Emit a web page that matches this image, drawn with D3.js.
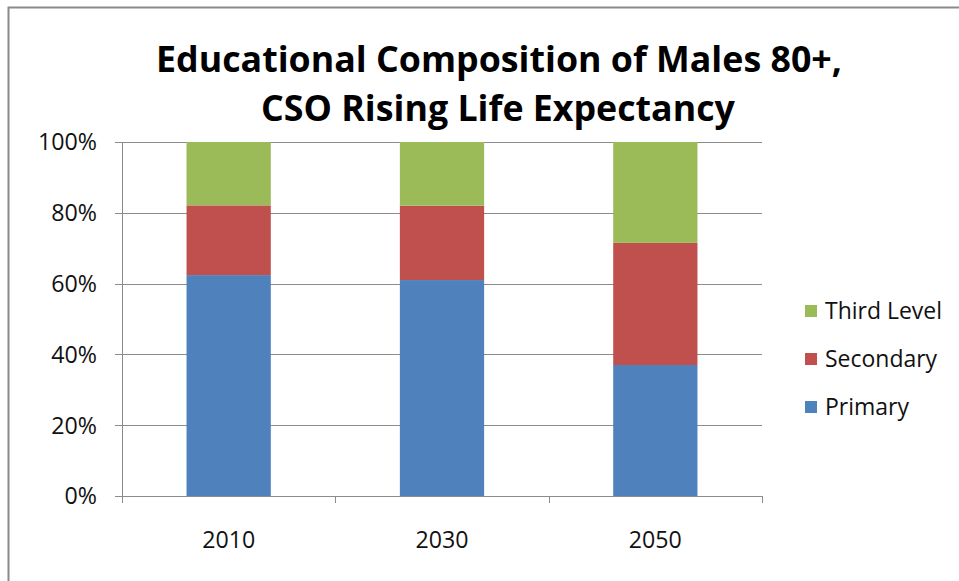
<!DOCTYPE html>
<html>
<head>
<meta charset="utf-8">
<script src="https://cdn.jsdelivr.net/npm/d3@7"></script>
<style>
  body { margin: 0; background: #fff; }
  svg { display: block; font-family: "Open Sans", sans-serif; }
</style>
</head>
<body>
<div id="chart"></div>
<script>
// data (shares of males 80+)
const years = ["2010", "2030", "2050"];
const seriesNames = ["Primary", "Secondary", "Third Level"];
const primary = [0.624, 0.610, 0.370];
const secondary = [0.197, 0.210, 0.345];
const thirdLevel = [0.179, 0.180, 0.285];
const yTicks = [0, 0.2, 0.4, 0.6, 0.8, 1.0];
const colors = ["#4F81BD", "#C0504D", "#9BBB59"];

const width = 959, height = 581;
const margin = {top: 142, left: 122, right: 959 - 762, bottom: 581 - 496};

const svg = d3.select("#chart").append("svg")
    .attr("width", width)
    .attr("height", height);

// shrink/grow a text's font so it spans roughly the given width
function fitWidth(sel, target, startSize) {
    sel.style("font-size", startSize + "px");
    const w = sel.node().getComputedTextLength();
    if (w > 0) sel.style("font-size", (startSize * target / w).toFixed(2) + "px");
}

// outer frame
svg.append("rect")
    .attr("x", 8.5).attr("y", 7.5)
    .attr("width", 970).attr("height", 600)
    .attr("fill", "none")
    .attr("stroke", "#8a8a8a")
    .attr("stroke-width", 2);

const table = years.map((y, i) => ({
    year: y,
    "Primary": primary[i],
    "Secondary": secondary[i],
    "Third Level": thirdLevel[i]
}));
const stacked = d3.stack().keys(seriesNames)(table);

const x = d3.scaleBand()
    .domain(years)
    .range([margin.left, width - margin.right])
    .paddingInner(0.605)
    .paddingOuter(0.3025);

const y = d3.scaleLinear()
    .domain([0, 1])
    .range([height - margin.bottom, margin.top]);

const gridColor = "#8c8c8c";

// horizontal gridlines
svg.append("g")
    .selectAll("line")
    .data(yTicks)
    .join("line")
    .attr("x1", margin.left - 7)
    .attr("x2", width - margin.right)
    .attr("y1", d => Math.round(y(d)) + 0.5)
    .attr("y2", d => Math.round(y(d)) + 0.5)
    .attr("stroke", gridColor)
    .attr("stroke-width", 1);

// y axis line
svg.append("line")
    .attr("x1", margin.left + 0.5).attr("x2", margin.left + 0.5)
    .attr("y1", margin.top).attr("y2", height - margin.bottom + 7)
    .attr("stroke", gridColor);

// x category boundary ticks
const bounds = d3.range(years.length + 1).map(i => margin.left + i * (width - margin.right - margin.left) / years.length);
svg.append("g")
    .selectAll("line")
    .data(bounds)
    .join("line")
    .attr("x1", d => Math.round(d) + 0.5)
    .attr("x2", d => Math.round(d) + 0.5)
    .attr("y1", height - margin.bottom)
    .attr("y2", height - margin.bottom + 7)
    .attr("stroke", gridColor);

// bars
svg.append("g")
    .selectAll("g")
    .data(stacked)
    .join("g")
    .attr("fill", (d, i) => colors[i])
    .selectAll("rect")
    .data(d => d)
    .join("rect")
    .attr("x", d => x(d.data.year))
    .attr("y", d => y(d[1]))
    .attr("width", x.bandwidth())
    .attr("height", d => y(d[0]) - y(d[1]));

// y labels
const yLabels = svg.append("g")
    .selectAll("text")
    .data(yTicks)
    .join("text")
    .attr("x", 97)
    .attr("y", d => y(d))
    .attr("dy", "0.36em")
    .attr("text-anchor", "end")
    .attr("fill", "#111")
    .text(d => d3.format(".0%")(d));
fitWidth(yLabels.filter(d => d === 1), 59, 20);
yLabels.style("font-size", yLabels.filter(d => d === 1).style("font-size"));

// x labels
const xLabels = svg.append("g")
    .selectAll("text")
    .data(years)
    .join("text")
    .attr("x", d => x(d) + x.bandwidth() / 2)
    .attr("y", 540)
    .attr("dy", "0.36em")
    .attr("text-anchor", "middle")
    .attr("fill", "#111")
    .text(d => d);
fitWidth(xLabels.filter((d, i) => i === 0), 53, 20);
xLabels.style("font-size", xLabels.filter((d, i) => i === 0).style("font-size"));

// title
const title = svg.append("g")
    .attr("font-weight", "bold")
    .attr("text-anchor", "middle");
const t1 = title.append("text").attr("x", 499).attr("y", 72).text("Educational Composition of Males 80+,");
fitWidth(t1, 686, 30);
title.append("text").attr("x", 498).attr("y", 121)
    .style("font-size", t1.style("font-size"))
    .text("CSO Rising Life Expectancy");

// legend (top to bottom: third level, secondary, primary)
const legendRows = seriesNames.map((n, i) => ({name: n, color: colors[i]})).reverse();
const legend = svg.append("g")
    .selectAll("g")
    .data(legendRows)
    .join("g")
    .attr("transform", (d, i) => `translate(805, ${311 + i * 48})`);
legend.append("rect")
    .attr("x", 0).attr("y", -6)
    .attr("width", 12).attr("height", 12)
    .attr("fill", d => d.color);
const legendText = legend.append("text")
    .attr("x", 20)
    .attr("dy", "0.36em")
    .attr("fill", "#111")
    .text(d => d.name);
fitWidth(legendText.filter(d => d.name === "Third Level"), 117, 20);
legendText.style("font-size", legendText.filter(d => d.name === "Third Level").style("font-size"));
</script>
</body>
</html>
